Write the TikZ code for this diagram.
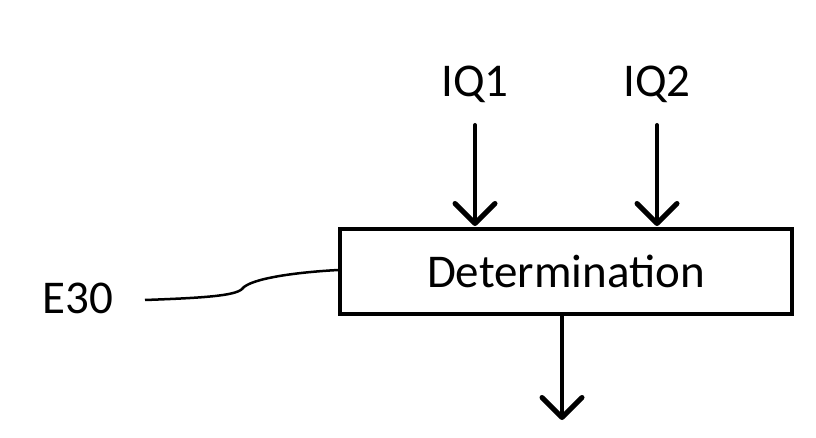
\documentclass[tikz,border=0pt]{standalone}
\usepackage{fontspec}
\setmainfont{Carlito}
\usetikzlibrary{arrows.meta}
\begin{document}
\begin{tikzpicture}[x=1pt,y=-1pt,
  lbl/.style={font=\fontsize{47}{52}\selectfont,inner sep=0},
  arr/.style={line width=4pt,line cap=round,-{Straight Barb[length=20pt,width=40pt,line width=5pt,round]}}]
\useasboundingbox (0,0) rectangle (816,438);
\node[draw,line width=3.5pt,minimum width=452pt,minimum height=85pt,inner sep=0,
  font=\fontsize{47}{52}\selectfont] (det) at (566,271.5) {Determination};
\node[lbl] (iq1) at (475,84) {IQ1};
\node[lbl] (iq2) at (657,84) {IQ2};
\node[lbl] (e30) at (78,298) {E30};
\coordinate (o) at (562,420);
\draw[arr] (475,125) -- (475,226);
\draw[arr] (657,125) -- (657,226);
\draw[arr] (562,314) -- (o);
\draw[line width=2.5pt] (145,300) .. controls (200,298) and (235,296) .. (242,289)
  .. controls (250,278) and (300,272) .. (det.west |- 0,270);
\end{tikzpicture}
\end{document}
